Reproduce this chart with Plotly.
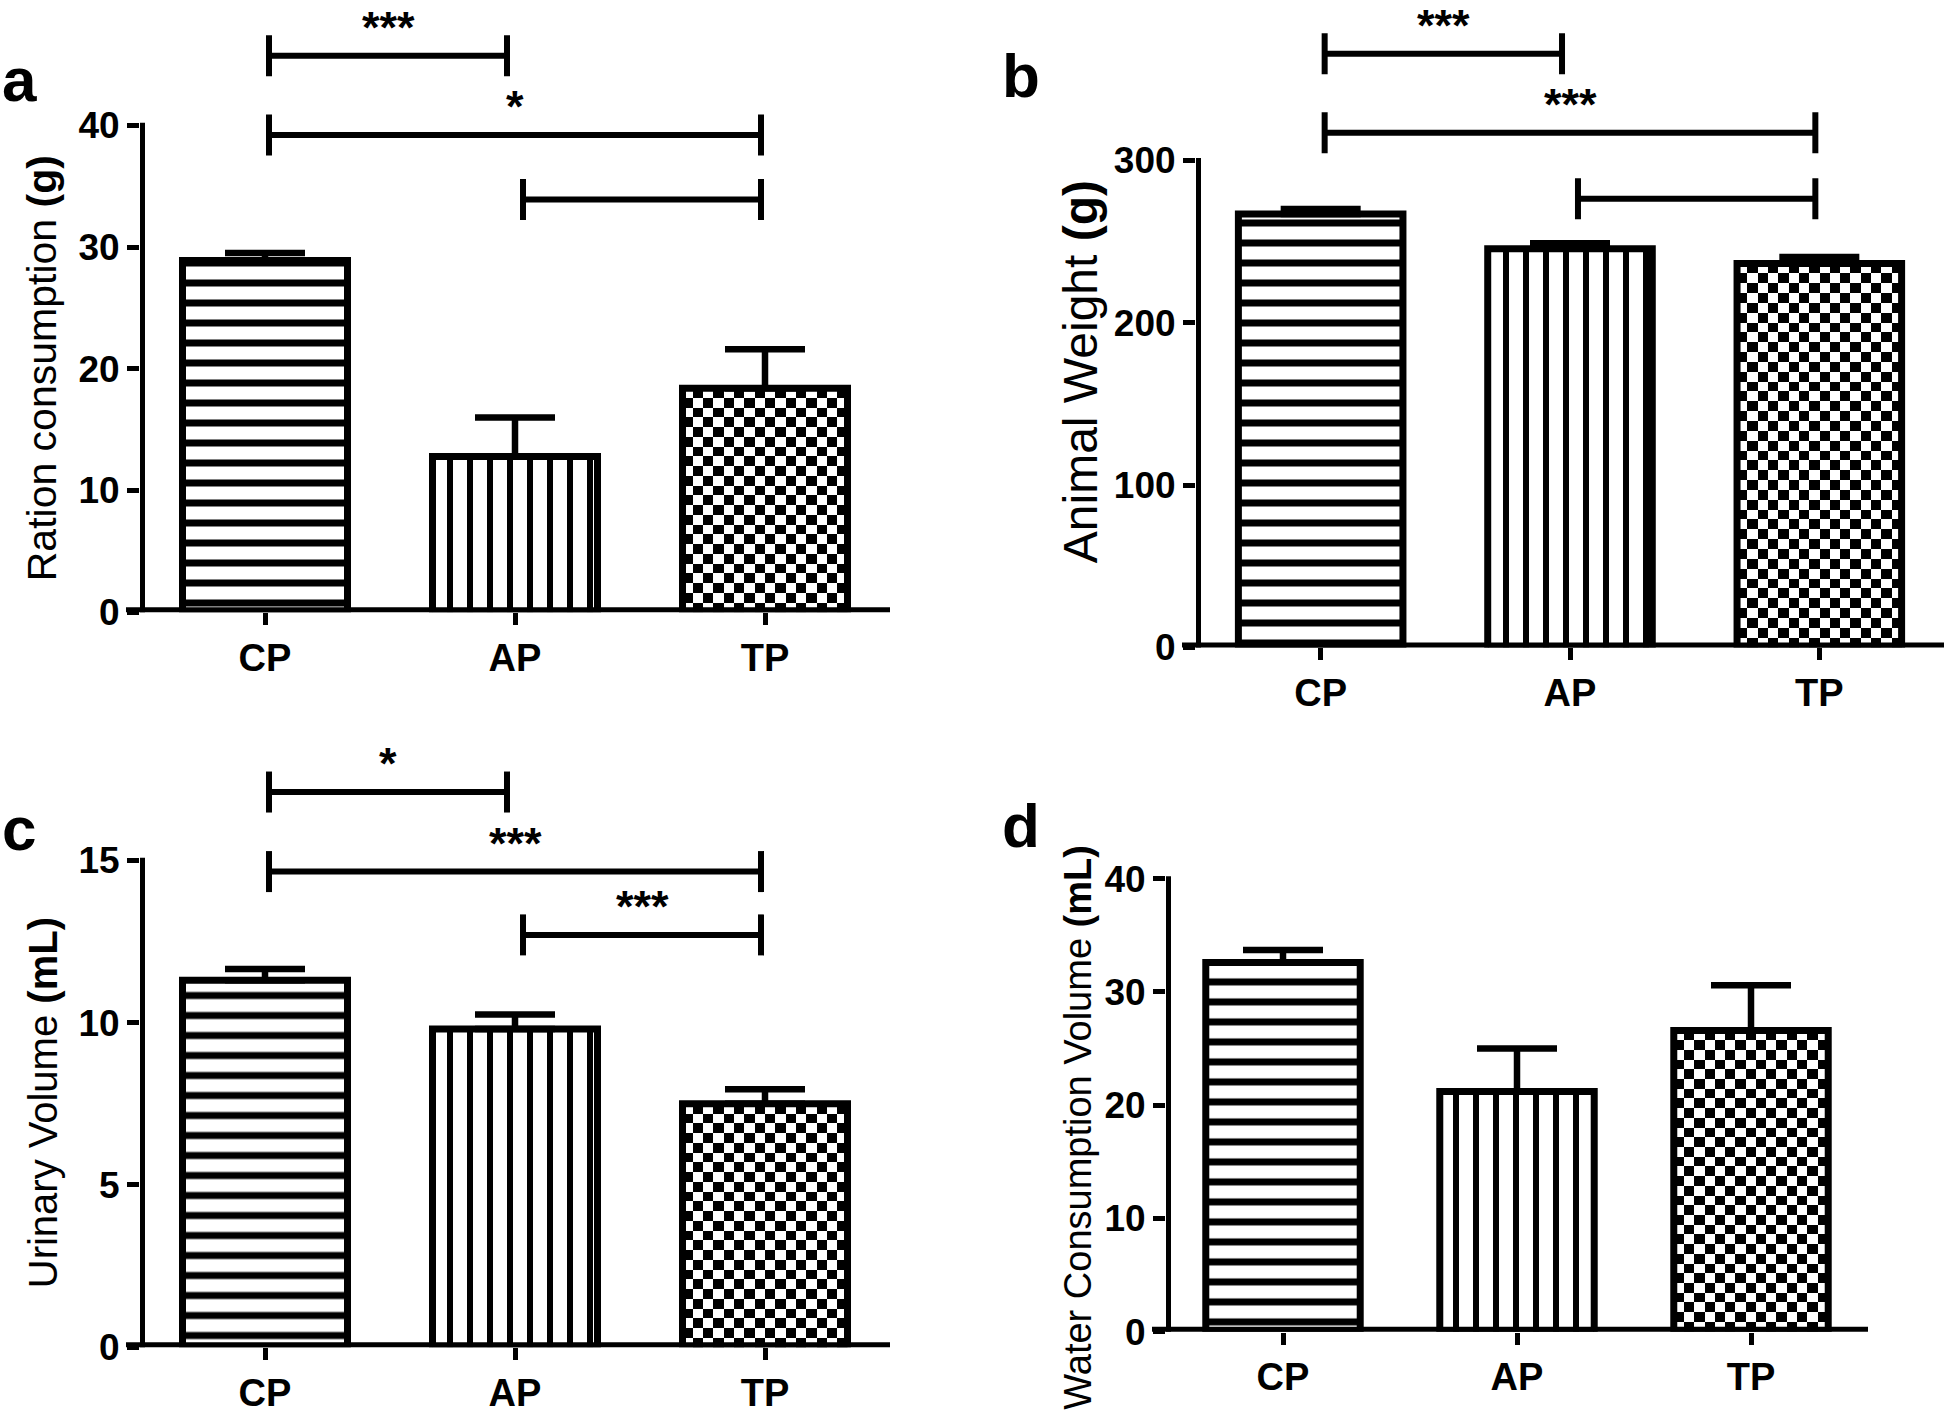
import plotly.graph_objects as go

W, H = 1946, 1420

categories = ["CP", "AP", "TP"]

ration_mean = [28.9, 12.8, 18.4]
ration_err = [0.6, 3.2, 3.2]
weight_mean = [267, 245.5, 236.5]
weight_err = [3, 3.5, 4]
urine_mean = [11.3, 9.8, 7.5]
urine_err = [0.35, 0.45, 0.45]
water_mean = [32.6, 21.2, 26.6]
water_err = [1.1, 3.8, 4.0]

ration_ticks = [0, 10, 20, 30, 40]
weight_ticks = [0, 100, 200, 300]
urine_ticks = [0, 5, 10, 15]
water_ticks = [0, 10, 20, 30, 40]

# significance brackets: (left group, right group, bracket level, label)
ration_sig = [(0, 1, 45.7, "***"), (0, 2, 39.2, "*"), (1, 2, 33.9, "")]
weight_sig = [(0, 1, 365.7, "***"), (0, 2, 317.0, "***"), (1, 2, 276.4, "")]
urine_sig = [(0, 1, 17.1, "*"), (0, 2, 14.65, "***"), (1, 2, 12.7, "***")]
water_sig = []

FONT = "Liberation Sans, Arial, Helvetica, sans-serif"

panels = [
    dict(letter="a", title="Ration consumption <b>(g)</b>", mean=ration_mean, err=ration_err,
         ticks=ration_ticks, sig=ration_sig, xl=140, xr=890, y0=614, ytick=115, top=0,
         title_xy=(42, 364), title_size=41, letter_xy=(0, 68)),
    dict(letter="b", title="Animal Weight <b>(g)</b>", mean=weight_mean, err=weight_err,
         ticks=weight_ticks, sig=weight_sig, xl=1196, xr=1944, y0=650, ytick=151, top=0,
         title_xy=(1080, 368), title_size=48, letter_xy=(1000, 64)),
    dict(letter="c", title="Urinary Volume <b>(mL)</b>", mean=urine_mean, err=urine_err,
         ticks=urine_ticks, sig=urine_sig, xl=140, xr=890, y0=1367, ytick=868, top=730,
         title_xy=(43, 1117), title_size=40, letter_xy=(0, 836)),
    dict(letter="d", title="Water Consumption Volume <b>(mL)</b>", mean=water_mean, err=water_err,
         ticks=water_ticks, sig=water_sig, xl=1166, xr=1868, y0=1351, ytick=887, top=880,
         title_xy=(1078, 1142), title_size=38, letter_xy=(1000, 832)),
]

BAR_W = 0.66
LINE_W = 7
AX_W = 5
CELL = 10

fig = go.Figure()
shapes = []
annotations = []

for k, p in enumerate(panels):
    n = "" if k == 0 else str(k + 1)
    xa, ya = "x" + n, "y" + n
    tickmax = max(p["ticks"])
    ppu = (p["y0"] - p["ytick"]) / tickmax
    ymax = (p["y0"] - p["top"]) / ppu
    px_per_cat = (p["xr"] - p["xl"]) / 3.0

    # checkerboard fill of the TP bar
    v = p["mean"][2]
    nx = max(1, round(BAR_W * px_per_cat / CELL))
    ny = max(1, round(v * ppu / CELL))
    dx = BAR_W / nx
    dy = v / ny
    z = [[(i + j) % 2 for j in range(nx)] for i in range(ny)]
    fig.add_trace(go.Heatmap(z=z, x0=2 - BAR_W / 2 + dx / 2, dx=dx, y0=dy / 2, dy=dy,
                             colorscale=[[0, "white"], [1, "black"]], zmin=0, zmax=1,
                             showscale=False, hoverinfo="skip", xaxis=xa, yaxis=ya))

    patterns = [dict(shape="-", size=20, solidity=0.35, fgcolor="black", bgcolor="white", fgopacity=1),
                dict(shape="|", size=20, solidity=0.3, fgcolor="black", bgcolor="white", fgopacity=1),
                None]
    colors = ["white", "white", "rgba(0,0,0,0)"]
    for i in range(3):
        marker = dict(color=colors[i], line=dict(color="black", width=LINE_W))
        if patterns[i] is not None:
            marker["pattern"] = patterns[i]
        fig.add_trace(go.Bar(x=[i], y=[p["mean"][i]], width=BAR_W, marker=marker,
                             error_y=dict(type="data", symmetric=False, array=[p["err"][i]],
                                          arrayminus=[0], color="black", thickness=6.5, width=40),
                             xaxis=xa, yaxis=ya, hoverinfo="skip"))

    # significance brackets
    h = 21 / ppu
    for (i, j, yb, lab) in p["sig"]:
        l = i + (0.032 if i == 1 else 0.016)
        r = j - (0.032 if j == 1 else 0.016)
        fig.add_trace(go.Scatter(x=[l, l, None, l, r, None, r, r],
                                 y=[yb - h, yb + h, None, yb, yb, None, yb - h, yb + h],
                                 mode="lines", line=dict(color="black", width=6),
                                 xaxis=xa, yaxis=ya, hoverinfo="skip"))
        if lab:
            annotations.append(dict(x=(l + r) / 2, y=yb, xref=xa, yref=ya, text=lab,
                                    showarrow=False, yanchor="bottom", yshift=1,
                                    font=dict(family=FONT, size=45, color="black", weight="bold")))

    xdom = [p["xl"] / W, p["xr"] / W]
    ydom = [1 - p["y0"] / H, 1 - p["top"] / H]
    fig.update_layout(**{
        ("xaxis" + n): dict(domain=xdom, range=[-0.5, 2.5], anchor=ya, tickmode="array",
                            tickvals=[0, 1, 2], ticktext=categories, ticks="outside",
                            ticklen=12, tickwidth=AX_W, tickcolor="black", showline=False,
                            showgrid=False, zeroline=False, fixedrange=True,
                            tickfont=dict(family=FONT, size=38, color="black", weight="bold")),
        ("yaxis" + n): dict(domain=ydom, range=[0, ymax], anchor=xa, tickmode="array",
                            tickvals=p["ticks"], ticktext=[str(t) for t in p["ticks"]],
                            ticks="outside", ticklen=12, tickwidth=AX_W, tickcolor="black",
                            showline=False, showgrid=False, zeroline=False, fixedrange=True,
                            tickfont=dict(family=FONT, size=37, color="black", weight="bold")),
    })

    # axis lines (drawn in paper space so the y line stops at the top tick)
    shapes.append(dict(type="line", xref="paper", yref="paper",
                       x0=(p["xl"] + AX_W / 2) / W, x1=(p["xl"] + AX_W / 2) / W,
                       y0=1 - p["y0"] / H, y1=1 - (p["ytick"] - AX_W / 2) / H,
                       line=dict(color="black", width=AX_W)))
    shapes.append(dict(type="line", xref="paper", yref="paper",
                       x0=(p["xl"] - 14) / W, x1=p["xr"] / W,
                       y0=1 - (p["y0"] - AX_W / 2) / H, y1=1 - (p["y0"] - AX_W / 2) / H,
                       line=dict(color="black", width=AX_W)))

    tx, ty = p["title_xy"]
    annotations.append(dict(x=tx / W, y=1 - ty / H, xref="paper", yref="paper", text=p["title"],
                            textangle=-90, showarrow=False, xanchor="center", yanchor="middle",
                            font=dict(family=FONT, size=p["title_size"], color="black")))
    lx, ly = p["letter_xy"]
    annotations.append(dict(x=lx / W, y=1 - ly / H, xref="paper", yref="paper", text=p["letter"],
                            showarrow=False, xanchor="left", yanchor="middle",
                            font=dict(family=FONT, size=62, color="black", weight="bold")))

fig.update_layout(width=W, height=H, margin=dict(l=0, r=0, t=0, b=0),
                  paper_bgcolor="white", plot_bgcolor="white", showlegend=False,
                  barmode="overlay", shapes=shapes, annotations=annotations,
                  font=dict(family=FONT, color="black"))

fig.write_html("out.html", config={"displayModeBar": False},
               post_script="document.body.style.margin='0px';document.body.style.overflow='hidden';")
